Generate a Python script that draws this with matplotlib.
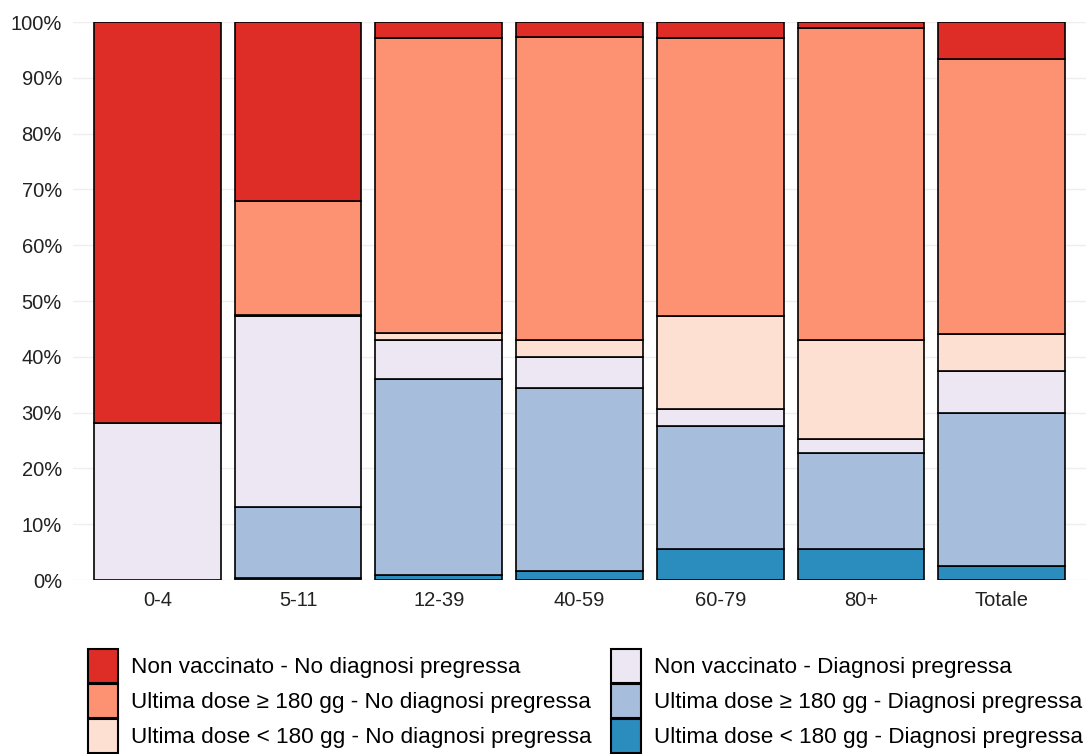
import matplotlib.pyplot as plt
import numpy as np
from matplotlib.ticker import PercentFormatter

plt.rcParams['font.family'] = ['Liberation Sans', 'DejaVu Sans']

# Age groups on the x axis
categories = ["0-4", "5-11", "12-39", "40-59", "60-79", "80+", "Totale"]

# Shares (%) per group, stacked bottom to top
ult_lt180_diag = [0.0, 0.3, 0.9, 1.6, 5.5, 5.5, 2.5]
ult_ge180_diag = [0.0, 12.7, 35.1, 32.8, 22.1, 17.3, 27.4]
nonvacc_diag = [28.1, 34.4, 7.0, 5.5, 3.0, 2.4, 7.5]
ult_lt180_nodiag = [0.0, 0.1, 1.3, 3.2, 16.8, 17.8, 6.7]
ult_ge180_nodiag = [0.0, 20.4, 52.9, 54.2, 49.8, 56.0, 49.3]
nonvacc_nodiag = [71.9, 32.1, 2.8, 2.7, 2.8, 1.0, 6.6]

series = [
    ("Ultima dose < 180 gg - Diagnosi pregressa", ult_lt180_diag, "#2B8CBE"),
    ("Ultima dose ≥ 180 gg - Diagnosi pregressa", ult_ge180_diag, "#A6BDDB"),
    ("Non vaccinato - Diagnosi pregressa", nonvacc_diag, "#ECE7F2"),
    ("Ultima dose < 180 gg - No diagnosi pregressa", ult_lt180_nodiag, "#FEE0D2"),
    ("Ultima dose ≥ 180 gg - No diagnosi pregressa", ult_ge180_nodiag, "#FC9272"),
    ("Non vaccinato - No diagnosi pregressa", nonvacc_nodiag, "#DE2D26"),
]

fig = plt.figure(figsize=(10.86, 7.54), dpi=100)
ax = fig.add_axes([73 / 1086, 1 - 580 / 754, 1013 / 1086, 558 / 754])

x = np.arange(len(categories))
bottom = np.zeros(len(categories))
handles = {}
for label, vals, color in series:
    vals = np.array(vals) / 100
    b = ax.bar(x, vals, width=0.9, bottom=bottom, color=color,
               edgecolor="black", linewidth=1.2, label=label, zorder=2)
    handles[label] = b
    bottom += vals

ax.set_xlim(-0.6, len(categories) - 0.4)
ax.set_ylim(0, 1)
ax.set_yticks(np.arange(0, 1.01, 0.1))
ax.yaxis.set_major_formatter(PercentFormatter(1.0, decimals=0))
ax.set_xticks(x)
ax.set_xticklabels(categories)
ax.tick_params(axis="both", length=0, labelsize=14.5, colors="#222222", pad=8)
ax.grid(axis="y", color="#eeeeee", linewidth=1, zorder=0)
for s in ax.spines.values():
    s.set_visible(False)

order = [
    "Non vaccinato - No diagnosi pregressa",
    "Ultima dose ≥ 180 gg - No diagnosi pregressa",
    "Ultima dose < 180 gg - No diagnosi pregressa",
    "Non vaccinato - Diagnosi pregressa",
    "Ultima dose ≥ 180 gg - Diagnosi pregressa",
    "Ultima dose < 180 gg - Diagnosi pregressa",
]
leg = fig.legend([handles[k] for k in order], order, ncol=2,
                 loc="upper left", bbox_to_anchor=(88 / 1086, 1 - 649 / 754),
                 frameon=False, fontsize=16.2, handlelength=1.33,
                 handleheight=1.95, handletextpad=0.58, labelspacing=0.045,
                 columnspacing=0.85, borderpad=0, borderaxespad=0)
for h in leg.legend_handles:
    h.set_linewidth(1.5)

fig.savefig("out.png", dpi=100, facecolor="white")
